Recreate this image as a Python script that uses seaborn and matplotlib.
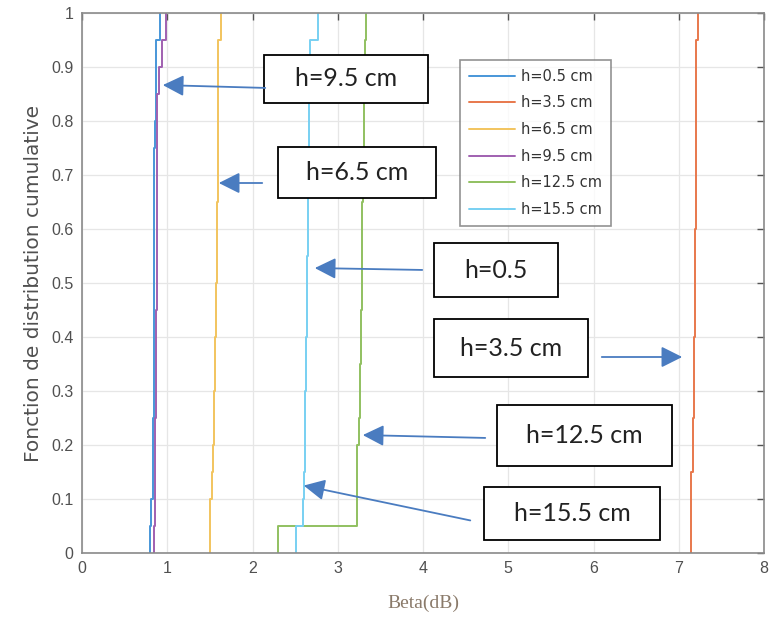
import numpy as np
import pandas as pd
import matplotlib
matplotlib.use("Agg")
import matplotlib.pyplot as plt
import seaborn as sns
from matplotlib.patches import Rectangle

# echantillons (20 valeurs par hauteur)
h_labels = ['h=0.5 cm', 'h=3.5 cm', 'h=6.5 cm', 'h=9.5 cm', 'h=12.5 cm', 'h=15.5 cm']
beta_05 = [0.80, 0.81, 0.83, 0.83, 0.83, 0.84, 0.84, 0.84, 0.84, 0.85,
           0.85, 0.85, 0.85, 0.85, 0.85, 0.86, 0.87, 0.87, 0.87, 0.91]
beta_35 = [7.14, 7.14, 7.14, 7.17, 7.17, 7.18, 7.18, 7.18, 7.19, 7.19,
           7.19, 7.19, 7.20, 7.20, 7.20, 7.20, 7.20, 7.20, 7.20, 7.22]
beta_65 = [1.50, 1.50, 1.53, 1.54, 1.55, 1.55, 1.56, 1.56, 1.57, 1.57,
           1.58, 1.58, 1.58, 1.59, 1.59, 1.59, 1.60, 1.60, 1.60, 1.63]
beta_95 = [0.85, 0.86, 0.86, 0.86, 0.86, 0.87, 0.87, 0.87, 0.87, 0.88,
           0.88, 0.88, 0.88, 0.88, 0.88, 0.88, 0.88, 0.90, 0.94, 0.99]
beta_125 = [2.30, 3.22, 3.22, 3.23, 3.25, 3.26, 3.26, 3.27, 3.27, 3.28,
            3.28, 3.29, 3.29, 3.30, 3.30, 3.31, 3.31, 3.32, 3.32, 3.33]
beta_155 = [2.51, 2.59, 2.60, 2.61, 2.62, 2.62, 2.63, 2.63, 2.64, 2.64,
            2.64, 2.65, 2.65, 2.65, 2.66, 2.66, 2.66, 2.66, 2.67, 2.77]
series = [beta_05, beta_35, beta_65, beta_95, beta_125, beta_155]

colors = ['#4896d8', '#e8784c', '#f2c45e', '#a060b0', '#90c060', '#78d0f2']

# boites de texte: (texte, x0, y0, x1, y1 en pixels de la figure, depart fleche, pointe fleche)
notes = [
    ('h=9.5 cm', 264, 55, 428, 103, (268, 88), (160, 85)),
    ('h=6.5 cm', 278, 147, 436, 198, (265, 183), (216, 183)),
    ('h=0.5', 434, 243, 558, 297, (425, 270), (312, 268)),
    ('h=3.5 cm', 434, 319, 588, 377, (599, 357), (685, 357)),
    ('h=12.5 cm', 497, 405, 672, 466, (488, 438), (360, 435)),
    ('h=15.5 cm', 484, 487, 660, 540, (473, 521), (301, 485)),
]

sns.set_style('whitegrid')
plt.rcParams['font.family'] = ['Liberation Sans', 'DejaVu Sans']

W, H = 770, 634
fig = plt.figure(figsize=(W / 100, H / 100), dpi=100)
ax = fig.add_axes([82 / W, 1 - 553 / H, 682 / W, 540 / H])

for vals, lab, c in zip(series, h_labels, colors):
    sns.ecdfplot(x=vals, ax=ax, color=c, label=lab, linewidth=1.4)

ax.set_xlim(0, 8)
ax.set_ylim(0, 1)
ax.set_xticks(np.arange(0, 9, 1))
ax.set_yticks(np.round(np.arange(0, 1.01, 0.1), 1))
ax.set_yticklabels(['0', '0.1', '0.2', '0.3', '0.4', '0.5', '0.6', '0.7', '0.8', '0.9', '1'])
ax.grid(True, color='#e6e6e6', linewidth=0.9)
for s in ax.spines.values():
    s.set_color('#8a8a8a')
    s.set_linewidth(1.2)
ax.tick_params(direction='in', length=5, width=1, color='#555555',
               labelsize=11.5, labelcolor='#505050', top=True, right=True,
               pad=6)

ax.set_ylabel('Fonction de distribution cumulative', fontsize=14.5, color='#505050',
              family='DejaVu Sans', labelpad=6)
ax.set_xlabel('Beta(dB)', fontsize=14, color='#8a7a6a', family='Liberation Serif',
              labelpad=13)

leg = ax.legend(loc='upper left', bbox_to_anchor=(0.554, 0.913),
                prop={'family': 'DejaVu Sans', 'size': 10.5},
                frameon=True, fancybox=False, handlelength=3.2, labelspacing=0.8,
                borderpad=0.6, handletextpad=0.4, borderaxespad=0)
leg.get_frame().set_edgecolor('#777777')
leg.get_frame().set_linewidth(1.2)
for t in leg.get_texts():
    t.set_color('#333333')

def fig_xy(px, py):
    return px / W, 1 - py / H

for text, x0, y0, x1, y1, start, tip in notes:
    fx0, fy1 = fig_xy(x0, y1)
    rect = Rectangle((fx0, fy1), (x1 - x0) / W, (y1 - y0) / H, transform=fig.transFigure,
                     facecolor='white', edgecolor='black', linewidth=1.3, zorder=5)
    fig.add_artist(rect)
    cx, cy = fig_xy((x0 + x1) / 2, (y0 + y1) / 2)
    fig.text(cx, cy, text, ha='center', va='center', fontsize=18, family='Lato',
             color='#222222', zorder=6)
    fig.add_artist(matplotlib.patches.FancyArrowPatch(
        fig_xy(*start), fig_xy(*tip), transform=fig.transFigure,
        arrowstyle='-|>,head_length=8,head_width=4', mutation_scale=1.6,
        color='#4a7cc0', linewidth=1.3, zorder=6))

fig.savefig('out.png', dpi=100)
